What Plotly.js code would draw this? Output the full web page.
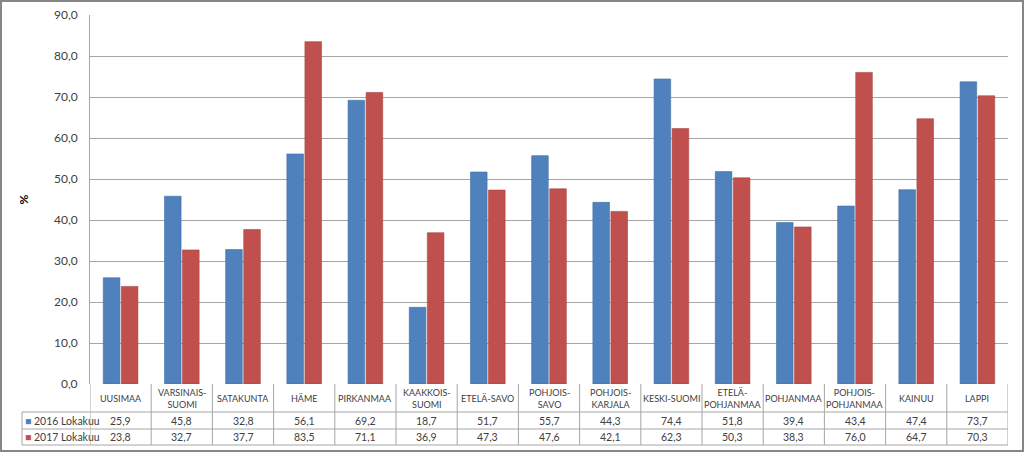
<!DOCTYPE html>
<html><head><meta charset="utf-8">
<script src="https://cdn.plot.ly/plotly-3.0.1.min.js"></script>
<style>html,body{margin:0;padding:0;background:#fff;}#chart{width:1024px;height:452px;}</style>
</head><body><div id="chart"></div>
<script>
const categories = ["UUSIMAA","VARSINAIS-<br>SUOMI","SATAKUNTA","HÄME","PIRKANMAA","KAAKKOIS-<br>SUOMI","ETELÄ-SAVO","POHJOIS-<br>SAVO","POHJOIS-<br>KARJALA","KESKI-SUOMI","ETELÄ-<br>POHJANMAA","POHJANMAA","POHJOIS-<br>POHJANMAA","KAINUU","LAPPI"];
const series2016 = [25.9,45.8,32.8,56.1,69.2,18.7,51.7,55.7,44.3,74.4,51.8,39.4,43.4,47.4,73.7];
const series2017 = [23.8,32.7,37.7,83.5,71.1,36.9,47.3,47.6,42.1,62.3,50.3,38.3,76.0,64.7,70.3];
const seriesNames = ["2016 Lokakuu","2017 Lokakuu"];
const yTicks = [0,10,20,30,40,50,60,70,80,90];

const colors = ["#4F81BD","#C0504D"];
const W = 1024, H = 452, L = 90, R = 16, T = 15, B = 68;
const plotH = H - T - B, plotW = W - L - R;
const py = p => (H - B - p) / plotH;   // pixel y -> paper y
const px = p => (p - L) / plotW;       // pixel x -> paper x
const fnt = "Lato, Liberation Sans, Arial, sans-serif";
const txtCol = "#404040";
const lineCol = "#A6A6A6";

const fmt = v => v.toFixed(1).replace(".", ",");

const traces = [series2016, series2017].map((s, k) => ({
  type: "bar", x: categories, y: s, name: seriesNames[k],
  marker: {color: colors[k], line: {color: k ? "#A94442" : "#3F6FA8", width: 0.6}},
  hoverinfo: "y"
}));

const shapes = [];
const annotations = [];
const n = categories.length;
[412, 429, 445].forEach(p => shapes.push({type:"line", xref:"paper", yref:"paper", x0:px(22), x1:1, y0:py(p), y1:py(p), line:{color:lineCol, width:1}}));
for (let i = 0; i <= n; i++) {
  shapes.push({type:"line", xref:"x", yref:"paper", x0:i-0.5, x1:i-0.5, y0:0, y1:py(445), line:{color:lineCol, width:1}});
}
shapes.push({type:"line", xref:"paper", yref:"paper", x0:px(22), x1:px(22), y0:py(412), y1:py(445), line:{color:lineCol, width:1}});
shapes.push({type:"rect", xref:"paper", yref:"paper", x0:px(1), x1:px(1023), y0:py(451), y1:py(1), line:{color:"#868686", width:2}, fillcolor:"rgba(0,0,0,0)"});

categories.forEach((c, i) => {
  annotations.push({x:c, xref:"x", yref:"paper", y:py(398), text:c, showarrow:false, font:{family:fnt, size:9, color:txtCol}, align:"center", yanchor:"middle"});
  annotations.push({x:c, xref:"x", yref:"paper", y:py(420.5), text:fmt(series2016[i]), showarrow:false, font:{family:fnt, size:10.5, color:txtCol}, yanchor:"middle"});
  annotations.push({x:c, xref:"x", yref:"paper", y:py(437), text:fmt(series2017[i]), showarrow:false, font:{family:fnt, size:10.5, color:txtCol}, yanchor:"middle"});
});
seriesNames.forEach((nm, k) => {
  annotations.push({xref:"paper", yref:"paper", x:px(23), y:py(k ? 437 : 420.5), xanchor:"left", yanchor:"middle", showarrow:false,
    text:"<span style='color:" + colors[k] + "'>■</span> " + nm, font:{family:fnt, size:10.5, color:txtCol}});
});

const layout = {
  width: W, height: H,
  margin: {l:L, r:R, t:T, b:B},
  paper_bgcolor: "#fff", plot_bgcolor: "#fff",
  showlegend: false,
  barmode: "group", bargap: 0.41, bargroupgap: 0.08,
  separators: ", ",
  font: {family: fnt, color: txtCol},
  xaxis: {type:"category", showticklabels:false, showgrid:false, zeroline:false, showline:false, ticks:"", range:[-0.5, n-0.5], fixedrange:true},
  yaxis: {range:[0,90], tickvals:yTicks, tickformat:".1f", showgrid:true, gridcolor:lineCol, gridwidth:1,
    showline:true, linecolor:lineCol, linewidth:1, zeroline:false, ticks:"", ticklabelstandoff:9,
    tickfont:{family:fnt, size:12, color:txtCol},
    title:{text:"<b>%</b>", font:{family:fnt, size:12, color:"#000"}, standoff:22}},
  shapes: shapes,
  annotations: annotations
};
Plotly.newPlot("chart", traces, layout, {displayModeBar:false, staticPlot:true});
</script></body></html>
